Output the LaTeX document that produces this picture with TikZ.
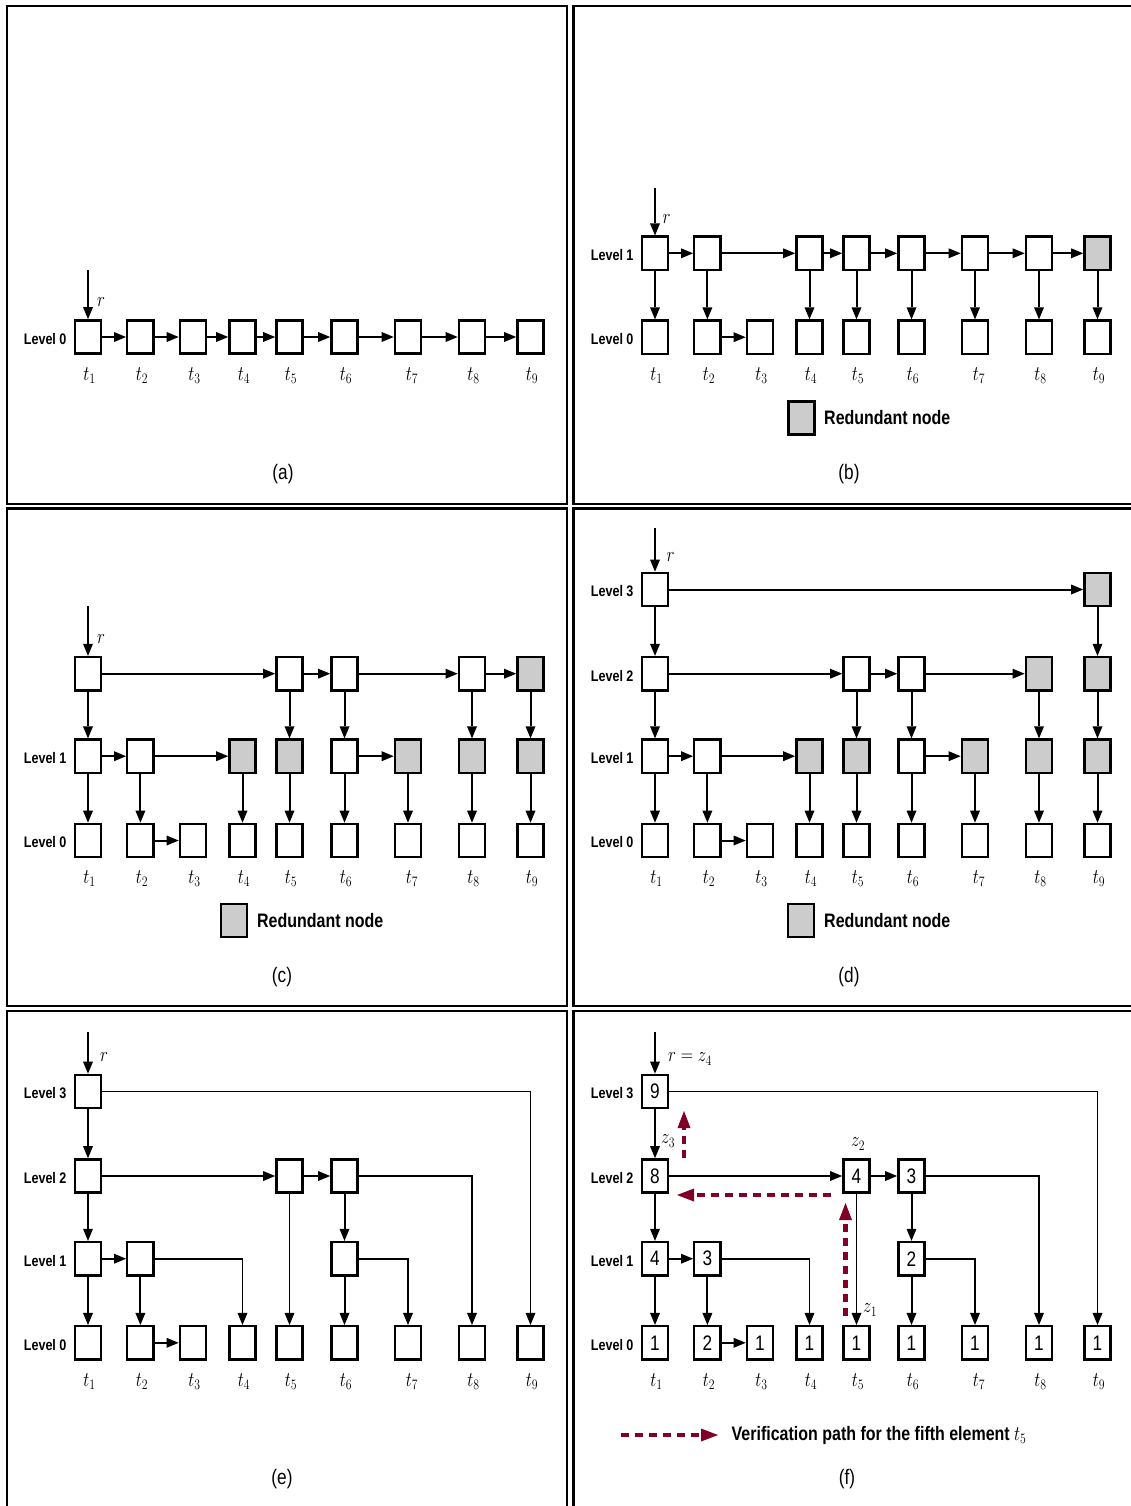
\documentclass[tikz,border=0pt]{standalone}
\usepackage{fontspec}
\setmainfont{Liberation Sans}
\usepackage{graphicx}
\usetikzlibrary{arrows.meta}
\definecolor{rgray}{RGB}{204,204,204}
\definecolor{vred}{RGB}{128,0,38}
\newcommand\nx[1]{\scalebox{0.82}[1]{#1}}
\def\XS{{88,140.4,193,242.5,289.5,344.5,408,472,530.5}}
\newcommand\mkrow[4]{%
  \foreach \i/\s/\t in {#4}{%
    \pgfmathsetmacro\xx{\XS[\i-1]+#2}%
    \node[\s] (#1-\i) at (\xx,#3) {\nx{\t}};
  }%
}
\newcommand\tlabels[2]{%
  \foreach \i in {1,...,9}{%
    \pgfmathsetmacro\xx{\XS[\i-1]+#1+ifthenelse(\i==7,4,1.5)}%
    \node[tl] at (\xx,#2) {\nx{$t_{\i}$}};
  }%
}
\newcommand\lvlab[2]{\node[lvl] at ([shift={(-7,2)}]#1.west) {\nx{#2}};}
\begin{document}
\begin{tikzpicture}[x=1pt,y=-1pt,
 box/.style={draw, line width=2.4pt, minimum width=26.3pt, minimum height=33.3pt, inner sep=0pt, fill=white, font=\fontsize{21}{22}\selectfont},
 gbox/.style={box, fill=rgray},
 arr/.style={line width=2pt, -{Triangle[length=12pt,width=10pt,line width=0pt]}},
 elb/.style={line width=1.8pt, -{Triangle[length=12pt,width=10pt,line width=0pt]}},
 redarr/.style={draw=vred, line width=4.5pt, dash pattern=on 8.5pt off 5.5pt, -{Triangle[length=17pt,width=13pt,line width=0pt]}},
 lvl/.style={anchor=east, inner sep=0pt, font=\bfseries\fontsize{15.3}{16}\selectfont},
 tl/.style={anchor=base, inner sep=0pt, font=\fontsize{21.5}{22}\selectfont},
 mlab/.style={inner sep=0pt, font=\fontsize{21.5}{22}\selectfont},
 captxt/.style={inner sep=0pt, font=\fontsize{21}{22}\selectfont},
 leg/.style={anchor=west, inner sep=0pt, font=\bfseries\fontsize{19.5}{20}\selectfont},
 pframe/.style={line width=2.6pt}
]
\useasboundingbox (0,0) rectangle (1130,1506);
% frames
\draw[pframe] (6.8,6.2) rectangle (567,504);
\draw[pframe] (573.5,6.2) rectangle (1150,504);
\draw[pframe] (6.8,508.7) rectangle (567,1006);
\draw[pframe] (573.5,508.7) rectangle (1150,1006);
\draw[pframe] (6.8,1011) rectangle (567,1530);
\draw[pframe] (573.5,1011) rectangle (1150,1530);

% ---------- (a)
\mkrow{a0}{0}{337}{1/box/{},2/box/{},3/box/{},4/box/{},5/box/{},6/box/{},7/box/{},8/box/{},9/box/{}}
\foreach \a/\b in {1/2,2/3,3/4,4/5,5/6,6/7,7/8,8/9} \draw[arr] (a0-\a) -- (a0-\b);
\coordinate (ar) at (88,270);
\draw[arr] (ar) -- (a0-1);
\node[mlab] at (101,302) {\nx{$r$}};
\lvlab{a0-1}{Level 0}
\tlabels{0}{380}
\node[captxt] at (283,474.5) {\nx{(a)}};

% ---------- (b)
\mkrow{b1}{567}{253.3}{1/box/{},2/box/{},4/box/{},5/box/{},6/box/{},7/box/{},8/box/{},9/gbox/{}}
\mkrow{b0}{567}{337.2}{1/box/{},2/box/{},3/box/{},4/box/{},5/box/{},6/box/{},7/box/{},8/box/{},9/box/{}}
\foreach \a/\b in {1/2,2/4,4/5,5/6,6/7,7/8,8/9} \draw[arr] (b1-\a) -- (b1-\b);
\draw[arr] (b0-2) -- (b0-3);
\foreach \i in {1,2,4,5,6,7,8,9} \draw[arr] (b1-\i) -- (b0-\i);
\coordinate (br) at (655,188);
\draw[arr] (br) -- (b1-1);
\node[mlab] at (666.5,219) {\nx{$r$}};
\lvlab{b1-1}{Level 1}
\lvlab{b0-1}{Level 0}
\tlabels{567}{380}
\node[gbox] (bleg) at (801.5,418) {};
\node[leg] at (824,418) {\nx{Redundant node}};
\node[captxt] at (849,474.5) {\nx{(b)}};

% ---------- (c)
\mkrow{c2}{0}{673.7}{1/box/{},5/box/{},6/box/{},8/box/{},9/gbox/{}}
\mkrow{c1}{0}{756.2}{1/box/{},2/box/{},4/gbox/{},5/gbox/{},6/box/{},7/gbox/{},8/gbox/{},9/gbox/{}}
\mkrow{c0}{0}{840.5}{1/box/{},2/box/{},3/box/{},4/box/{},5/box/{},6/box/{},7/box/{},8/box/{},9/box/{}}
\foreach \a/\b in {1/5,5/6,6/8,8/9} \draw[arr] (c2-\a) -- (c2-\b);
\foreach \a/\b in {1/2,2/4,6/7} \draw[arr] (c1-\a) -- (c1-\b);
\draw[arr] (c0-2) -- (c0-3);
\foreach \i in {1,5,6,8,9} \draw[arr] (c2-\i) -- (c1-\i);
\foreach \i in {1,2,4,5,6,7,8,9} \draw[arr] (c1-\i) -- (c0-\i);
\coordinate (cr) at (88,606);
\draw[arr] (cr) -- (c2-1);
\node[mlab] at (101,639) {\nx{$r$}};
\lvlab{c1-1}{Level 1}
\lvlab{c0-1}{Level 0}
\tlabels{0}{883.5}
\node[gbox] (cleg) at (234,920.5) {};
\node[leg] at (257,920.5) {\nx{Redundant node}};
\node[captxt] at (282,977) {\nx{(c)}};

% ---------- (d)
\mkrow{d3}{567}{589.5}{1/box/{},9/gbox/{}}
\mkrow{d2}{567}{673.7}{1/box/{},5/box/{},6/box/{},8/gbox/{},9/gbox/{}}
\mkrow{d1}{567}{756.2}{1/box/{},2/box/{},4/gbox/{},5/gbox/{},6/box/{},7/gbox/{},8/gbox/{},9/gbox/{}}
\mkrow{d0}{567}{840.5}{1/box/{},2/box/{},3/box/{},4/box/{},5/box/{},6/box/{},7/box/{},8/box/{},9/box/{}}
\draw[arr] (d3-1) -- (d3-9);
\foreach \a/\b in {1/5,5/6,6/8} \draw[arr] (d2-\a) -- (d2-\b);
\foreach \a/\b in {1/2,2/4,6/7} \draw[arr] (d1-\a) -- (d1-\b);
\draw[arr] (d0-2) -- (d0-3);
\foreach \i in {1,9} \draw[arr] (d3-\i) -- (d2-\i);
\foreach \i in {1,5,6,8,9} \draw[arr] (d2-\i) -- (d1-\i);
\foreach \i in {1,2,4,5,6,7,8,9} \draw[arr] (d1-\i) -- (d0-\i);
\coordinate (dr) at (655,528);
\draw[arr] (dr) -- (d3-1);
\node[mlab] at (670.7,556.7) {\nx{$r$}};
\lvlab{d3-1}{Level 3}
\lvlab{d2-1}{Level 2}
\lvlab{d1-1}{Level 1}
\lvlab{d0-1}{Level 0}
\tlabels{567}{883.5}
\node[gbox] (dleg) at (801,920.5) {};
\node[leg] at (824,920.5) {\nx{Redundant node}};
\node[captxt] at (849,977) {\nx{(d)}};

% ---------- (e)
\mkrow{e3}{0}{1091.5}{1/box/{}}
\mkrow{e2}{0}{1176}{1/box/{},5/box/{},6/box/{}}
\mkrow{e1}{0}{1258.7}{1/box/{},2/box/{},6/box/{}}
\mkrow{e0}{0}{1342.8}{1/box/{},2/box/{},3/box/{},4/box/{},5/box/{},6/box/{},7/box/{},8/box/{},9/box/{}}
\foreach \a/\b in {1/5,5/6} \draw[arr] (e2-\a) -- (e2-\b);
\draw[arr] (e1-1) -- (e1-2);
\draw[arr] (e0-2) -- (e0-3);
\draw[elb] (e3-1) -| (e0-9);
\draw[elb] (e2-6) -| (e0-8);
\draw[elb] (e1-2) -| (e0-4);
\draw[elb] (e1-6) -| (e0-7);
\draw[arr] (e3-1) -- (e2-1);
\draw[arr] (e2-1) -- (e1-1);
\draw[arr] (e1-1) -- (e0-1);
\draw[arr] (e1-2) -- (e0-2);
\draw[elb] (e2-5) -- (e0-5);
\draw[arr] (e2-6) -- (e1-6);
\draw[arr] (e1-6) -- (e0-6);
\coordinate (er) at (88,1031.7);
\draw[arr] (er) -- (e3-1);
\node[mlab] at (104,1057) {\nx{$r$}};
\lvlab{e3-1}{Level 3}
\lvlab{e2-1}{Level 2}
\lvlab{e1-1}{Level 1}
\lvlab{e0-1}{Level 0}
\tlabels{0}{1386}
\node[captxt] at (282,1479.5) {\nx{(e)}};

% ---------- (f)
\mkrow{f3}{567}{1091.5}{1/box/9}
\mkrow{f2}{567}{1176}{1/box/8,5/box/4,6/box/3}
\mkrow{f1}{567}{1258.7}{1/box/4,2/box/3,6/box/2}
\mkrow{f0}{567}{1342.8}{1/box/1,2/box/2,3/box/1,4/box/1,5/box/1,6/box/1,7/box/1,8/box/1,9/box/1}
\foreach \a/\b in {1/5,5/6} \draw[arr] (f2-\a) -- (f2-\b);
\draw[arr] (f1-1) -- (f1-2);
\draw[arr] (f0-2) -- (f0-3);
\draw[elb] (f3-1) -| (f0-9);
\draw[elb] (f2-6) -| (f0-8);
\draw[elb] (f1-2) -| (f0-4);
\draw[elb] (f1-6) -| (f0-7);
\draw[arr] (f3-1) -- (f2-1);
\draw[arr] (f2-1) -- (f1-1);
\draw[arr] (f1-1) -- (f0-1);
\draw[arr] (f1-2) -- (f0-2);
\draw[elb] (f2-5) -- (f0-5);
\draw[arr] (f2-6) -- (f1-6);
\draw[arr] (f1-6) -- (f0-6);
\coordinate (fr) at (655,1031.7);
\draw[arr] (fr) -- (f3-1);
\node[mlab] at (690,1059) {\nx{$r=z_4$}};
\node[mlab] at (668,1141) {\nx{$z_3$}};
\node[mlab] at (858,1144) {\nx{$z_2$}};
\node[mlab] at (870,1310) {\nx{$z_1$}};
\lvlab{f3-1}{Level 3}
\lvlab{f2-1}{Level 2}
\lvlab{f1-1}{Level 1}
\lvlab{f0-1}{Level 0}
\tlabels{567}{1386}
% verification path
\coordinate (p1s) at (845.5,1316);
\coordinate (p1e) at (845.5,1203);
\coordinate (p2s) at (831,1195);
\coordinate (p2e) at (677,1195);
\coordinate (p3s) at (684,1158);
\coordinate (p3e) at (684,1111);
\draw[redarr] (p1s) -- (p1e);
\draw[redarr] (p2s) -- (p2e);
\draw[redarr] (p3s) -- (p3e);
\coordinate (fl1) at (620.5,1435);
\coordinate (fl2) at (718,1435);
\draw[redarr] (fl1) -- (fl2);
\node[leg, anchor=base west] at (731.5,1440.5) {\nx{Verification path for the fifth element $t_5$}};
\node[captxt] at (847,1479.5) {\nx{(f)}};
\end{tikzpicture}
\end{document}
